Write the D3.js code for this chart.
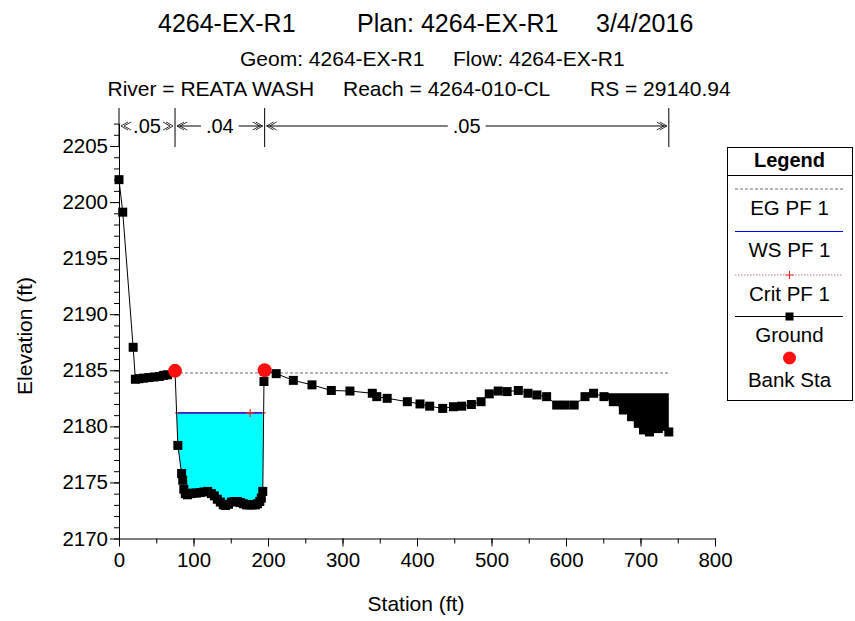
<!DOCTYPE html>
<html><head><meta charset="utf-8">
<script src="https://cdn.jsdelivr.net/npm/d3@7"></script>
<style>
body{margin:0;background:#fff}
text{font-family:"Liberation Sans",Arial,sans-serif;fill:#000}
</style>
</head><body><svg id="c" width="855" height="621"></svg>
<script>
// ---------------- data ----------------
const groundStations = [0,5,19,22,27,33,40,47,54,60,65,75.2,79,84,85.5,87,89,92,96,100,104,109,114,119,124,128,132,136,140,143,147,151,155,159,163,167,171,175,179,183,186,189,191,193,194.6,195.5,211,234,259,285,310,340,346,360,387,404,417,434.5,449,460,473,486,497,509,521,536,549,561,574,587.5,599,611,625.5,637,651,663.5,677,688,697,704,712,724,738];
const groundElevations = [2202.0,2199.1,2187.05,2184.2,2184.25,2184.3,2184.35,2184.4,2184.45,2184.55,2184.6,2184.95,2178.3,2175.8,2175.2,2174.4,2174.0,2173.9,2174.0,2174.05,2174.05,2174.1,2174.15,2174.2,2174.0,2173.8,2173.5,2173.25,2173.0,2172.95,2173.05,2173.25,2173.3,2173.3,2173.2,2173.1,2173.0,2173.0,2173.0,2173.0,2173.1,2173.3,2173.6,2174.2,2184.0,2185.0,2184.7,2184.1,2183.7,2183.2,2183.15,2182.95,2182.65,2182.5,2182.2,2182.0,2181.8,2181.6,2181.75,2181.8,2181.95,2182.2,2182.9,2183.15,2183.1,2183.2,2182.95,2182.8,2182.65,2181.9,2181.9,2181.9,2182.65,2182.95,2182.65,2182.2,2181.46,2180.86,2180.27,2179.68,2179.5,2179.8,2179.5];
const bankStations = [75.2, 195.5];
const bankElevations = [2184.95, 2185.0];
const egElevation = 2184.76;
const egStations = [75.2, 738];
const wsElevation = 2181.2;
const critElevation = 2181.2;
const critMarkerStation = 176;
const obstructionStations = [650, 738];
const obstructionElevation = 2182.95;
const nBounds = [0, 75.2, 195.5, 738];
const nValues = [".05", ".04", ".05"];
const xTickValues = [0,100,200,300,400,500,600,700,800];
const xMinorValues = d3.range(0, 801, 50);
const yTickValues = [2170,2175,2180,2185,2190,2195,2200,2205];
const yMinorValues = d3.range(2170, 2208, 1);
const titleParts = ["4264-EX-R1", "Plan: 4264-EX-R1", "3/4/2016"];
const line2Parts = ["Geom: 4264-EX-R1", "Flow: 4264-EX-R1"];
const line3Parts = ["River = REATA WASH", "Reach = 4264-010-CL", "RS = 29140.94"];
const legendItems = ["EG PF 1", "WS PF 1", "Crit PF 1", "Ground", "Bank Sta"];

// ---------------- drawing ----------------
const svg = d3.select("#c");
const FONT = '"Liberation Sans",Arial,sans-serif';
const x = d3.scaleLinear().domain([0, 800]).range([119, 715]);
const y = d3.scaleLinear().domain([2170, 2207]).range([538.5, 538.5 - 37 * 11.214]);

const ground = groundStations.map((s, i) => [s, groundElevations[i]]);
function groundAt(s) {
  for (let i = 0; i < ground.length - 1; i++) {
    const [s0, e0] = ground[i], [s1, e1] = ground[i + 1];
    if (s >= s0 && s <= s1) return s1 === s0 ? e0 : e0 + (e1 - e0) * (s - s0) / (s1 - s0);
  }
  return ground[ground.length - 1][1];
}

// titles
function textRow(parts, xs, yb, size, weight) {
  parts.forEach((t, i) => svg.append("text").attr("x", xs[i]).attr("y", yb)
    .attr("font-size", size).attr("font-weight", weight || "normal").text(t));
}
textRow(titleParts, [158, 357, 596], 32, 25);
textRow(line2Parts, [240, 453], 66, 21);
textRow(line3Parts, [107.5, 343, 590], 96, 21);

// water polygon (main channel between banks)
(function () {
  const iL = groundStations.indexOf(bankStations[0]);
  let pts = [], started = false;
  for (let i = iL; i < ground.length - 1; i++) {
    const [s0, e0] = ground[i], [s1, e1] = ground[i + 1];
    if (!started && e0 >= wsElevation && e1 < wsElevation) {
      const s = s0 + (s1 - s0) * (e0 - wsElevation) / (e0 - e1);
      pts.push([s, wsElevation]); started = true;
    }
    if (started) {
      if (e1 < wsElevation) pts.push([s1, e1]);
      else {
        const s = s0 + (s1 - s0) * (wsElevation - e0) / (e1 - e0);
        pts.push([s, wsElevation]); break;
      }
    }
  }
  svg.append("path").attr("d", d3.line().x(d => x(d[0])).y(d => y(d[1]))(pts) + "Z")
    .attr("fill", "#00ffff").attr("stroke", "none");
  const sL = pts[0][0], sR = pts[pts.length - 1][0];
  svg.append("line").attr("x1", x(sL) - 1.5).attr("x2", x(sR) + 2).attr("y1", y(critElevation)).attr("y2", y(critElevation))
    .attr("stroke", "#ff2020").attr("stroke-width", 1.2);
  svg.append("line").attr("x1", x(sL) + 1.5).attr("x2", x(sR) - 1.5).attr("y1", y(wsElevation)).attr("y2", y(wsElevation))
    .attr("stroke", "#0000ff").attr("stroke-width", 1.2);
  const cx = x(critMarkerStation), cy = y(critElevation);
  svg.append("path").attr("d", `M${cx - 4},${cy}H${cx + 4}M${cx},${cy - 4}V${cy + 4}`)
    .attr("stroke", "#ff2020").attr("stroke-width", 1.2);
})();

// EG line
svg.append("line").attr("x1", x(egStations[0])).attr("x2", x(egStations[1]))
  .attr("y1", y(egElevation)).attr("y2", y(egElevation))
  .attr("stroke", "#666").attr("stroke-width", 1).attr("stroke-dasharray", "3,2");

// ground line + squares
svg.append("path").attr("d", d3.line().x(d => x(d[0])).y(d => y(d[1]))(ground))
  .attr("fill", "none").attr("stroke", "#000").attr("stroke-width", 1);
svg.selectAll("rect.g").data(ground).enter().append("rect").attr("class", "g")
  .attr("x", d => x(d[0]) - 4.5).attr("y", d => y(d[1]) - 4.5).attr("width", 9).attr("height", 9).attr("fill", "#000");

// obstruction
(function () {
  const [a, b] = obstructionStations;
  const pts = [[a, obstructionElevation], [b, obstructionElevation], [b, groundAt(b)]];
  ground.filter(d => d[0] < b && d[0] > a).reverse().forEach(d => pts.push(d));
  pts.push([a, groundAt(a)]);
  svg.append("path").attr("d", d3.line().x(d => x(d[0])).y(d => y(d[1]))(pts) + "Z").attr("fill", "#000");
})();

// bank stations
svg.selectAll("circle.b").data(bankStations).enter().append("circle").attr("class", "b")
  .attr("cx", d => x(d)).attr("cy", (d, i) => y(bankElevations[i])).attr("r", 7).attr("fill", "#ff1010");

// axes
const gx = svg.append("g").attr("transform", `translate(0,${y(2170)})`);
gx.call(d3.axisBottom(x).tickValues(xMinorValues).tickSize(5).tickFormat("").tickSizeOuter(0));
const gx2 = svg.append("g").attr("transform", `translate(0,${y(2170)})`);
gx2.call(d3.axisBottom(x).tickValues(xTickValues).tickSize(8).tickPadding(6).tickSizeOuter(0));
gx2.select(".domain").remove();
const gy = svg.append("g").attr("transform", `translate(${x(0)},0)`);
gy.call(d3.axisLeft(y).tickValues(yMinorValues).tickSize(5).tickFormat("").tickSizeOuter(0));
const gy2 = svg.append("g").attr("transform", `translate(${x(0)},0)`);
gy2.call(d3.axisLeft(y).tickValues(yTickValues).tickSize(9).tickPadding(2).tickFormat(d3.format("d")).tickSizeOuter(0));
gy2.select(".domain").remove();
svg.selectAll(".tick text").attr("font-size", 20.5).attr("font-family", FONT).attr("fill", "#000");
svg.selectAll(".domain, .tick line").attr("stroke", "#000");

// axis titles
svg.append("text").attr("x", 416).attr("y", 611).attr("text-anchor", "middle").attr("font-size", 21).text("Station (ft)");
svg.append("text").attr("transform", "translate(32,336) rotate(-90)").attr("text-anchor", "middle").attr("font-size", 21).text("Elevation (ft)");

// n-value brackets
(function () {
  const yl = 126;
  nBounds.forEach(b => svg.append("line").attr("x1", x(b)).attr("x2", x(b)).attr("y1", 108).attr("y2", 147).attr("stroke", "#000"));
  nValues.forEach((v, i) => {
    const a = x(nBounds[i]), b = x(nBounds[i + 1]), m = (a + b) / 2;
    const t = svg.append("text").attr("x", m).attr("y", yl + 7).attr("text-anchor", "middle").attr("font-size", 20).text(v);
    const w = t.node().getComputedTextLength();
    const l1 = a + 2, r1 = m - w / 2 - 5, l2 = m + w / 2 + 5, r2 = b - 2;
    if (r1 > l1 + 8) svg.append("line").attr("x1", l1).attr("x2", r1).attr("y1", yl).attr("y2", yl).attr("stroke", "#000");
    if (r2 > l2 + 8) svg.append("line").attr("x1", l2).attr("x2", r2).attr("y1", yl).attr("y2", yl).attr("stroke", "#000");
    svg.append("path").attr("d", `M${a + 9},${yl - 4}L${a + 2},${yl}L${a + 9},${yl + 4}M${a + 12},${yl - 4}L${a + 5},${yl}L${a + 12},${yl + 4}`)
      .attr("fill", "none").attr("stroke", "#000").attr("stroke-width", 0.8);
    svg.append("path").attr("d", `M${b - 9},${yl - 4}L${b - 2},${yl}L${b - 9},${yl + 4}M${b - 12},${yl - 4}L${b - 5},${yl}L${b - 12},${yl + 4}`)
      .attr("fill", "none").attr("stroke", "#000").attr("stroke-width", 0.8);
  });
})();

// legend
(function () {
  const L = 727, R = 852, T = 147, B = 400, cx = (L + R) / 2;
  svg.append("rect").attr("x", L + 0.5).attr("y", T + 0.5).attr("width", R - L).attr("height", B - T)
    .attr("fill", "#fff").attr("stroke", "#000");
  svg.append("line").attr("x1", L).attr("x2", R + 1).attr("y1", 175.5).attr("y2", 175.5).attr("stroke", "#000");
  svg.append("text").attr("x", cx).attr("y", 167).attr("text-anchor", "middle").attr("font-size", 20).attr("font-weight", "bold").text("Legend");
  const lx1 = 735, lx2 = 843;
  const lineY = [189, 231.5, 275, 316.5, 358];
  const textY = [215, 257, 301, 342, 387];
  legendItems.forEach((t, i) => svg.append("text").attr("x", cx).attr("y", textY[i]).attr("text-anchor", "middle").attr("font-size", 20.5).text(t));
  svg.append("line").attr("x1", lx1).attr("x2", lx2).attr("y1", lineY[0]).attr("y2", lineY[0]).attr("stroke", "#666").attr("stroke-dasharray", "3,2");
  svg.append("line").attr("x1", lx1).attr("x2", lx2).attr("y1", lineY[1]).attr("y2", lineY[1]).attr("stroke", "#0000ff");
  svg.append("line").attr("x1", lx1).attr("x2", lx2).attr("y1", lineY[2]).attr("y2", lineY[2]).attr("stroke", "#c08080").attr("stroke-dasharray", "1.5,1.5");
  svg.append("path").attr("d", `M${cx - 4},${lineY[2]}H${cx + 4}M${cx},${lineY[2] - 4}V${lineY[2] + 4}`).attr("stroke", "#ff2020");
  svg.append("line").attr("x1", lx1).attr("x2", lx2).attr("y1", lineY[3]).attr("y2", lineY[3]).attr("stroke", "#000");
  svg.append("rect").attr("x", cx - 4).attr("y", lineY[3] - 4).attr("width", 8).attr("height", 8).attr("fill", "#000");
  svg.append("circle").attr("cx", cx).attr("cy", lineY[4]).attr("r", 6.5).attr("fill", "#ff1010");
})();
</script>
</body></html>
